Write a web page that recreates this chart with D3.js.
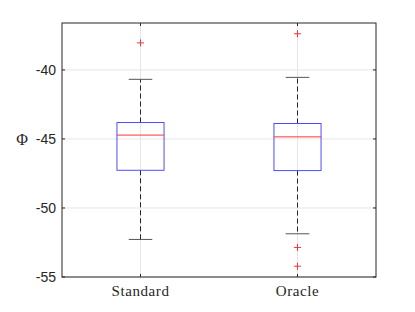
<!DOCTYPE html>
<html>
<head>
<meta charset="utf-8">
<script src="https://cdn.jsdelivr.net/npm/d3@7"></script>
<style>
  body { margin: 0; background: #fff; }
  svg { display: block; }
</style>
</head>
<body>
<svg id="chart" width="415" height="312"></svg>
<script>
// box statistics
var categories = ["Standard", "Oracle"];
var q1 = [-47.27, -47.29];
var medians = [-44.72, -44.85];
var q3 = [-43.81, -43.88];
var whiskerLow = [-52.28, -51.87];
var whiskerHigh = [-40.68, -40.54];
var outliers = [[-38.04], [-37.38, -52.86, -54.22]];
var yTicks = [-55, -50, -45, -40];

var margin = {left: 62, right: 39, top: 23, bottom: 35};
var width = 415, height = 312;

var svg = d3.select("#chart");

var x = d3.scaleLinear()
	.domain([0.5, 2.5])
	.range([margin.left, width - margin.right]);

var y = d3.scaleLinear()
	.domain([-55, -36.6])
	.range([height - margin.bottom, margin.top]);

var boxHalf = 0.15, capHalf = 0.075;

// grid
var grid = svg.append("g");
grid.selectAll(".gy").data(yTicks).enter().append("line")
	.attr("x1", x(0.5)).attr("x2", x(2.5))
	.attr("y1", function(d) { return y(d); })
	.attr("y2", function(d) { return y(d); })
	.attr("stroke", "#e6e6e6").attr("stroke-width", 1);
grid.selectAll(".gx").data(categories).enter().append("line")
	.attr("x1", function(d, i) { return x(i + 1); })
	.attr("x2", function(d, i) { return x(i + 1); })
	.attr("y1", y(-55)).attr("y2", y(-36.6))
	.attr("stroke", "#e6e6e6").attr("stroke-width", 1);

// boxes
var boxes = svg.append("g").selectAll("g").data(categories).enter().append("g");

boxes.append("line")
	.attr("x1", function(d, i) { return x(i + 1); })
	.attr("x2", function(d, i) { return x(i + 1); })
	.attr("y1", function(d, i) { return y(q3[i]); })
	.attr("y2", function(d, i) { return y(whiskerHigh[i]); })
	.attr("stroke", "#222").attr("stroke-dasharray", "5,3");
boxes.append("line")
	.attr("x1", function(d, i) { return x(i + 1); })
	.attr("x2", function(d, i) { return x(i + 1); })
	.attr("y1", function(d, i) { return y(q1[i]); })
	.attr("y2", function(d, i) { return y(whiskerLow[i]); })
	.attr("stroke", "#222").attr("stroke-dasharray", "5,3");

[whiskerHigh, whiskerLow].forEach(function(arr)
{
	boxes.append("line")
		.attr("x1", function(d, i) { return x(i + 1 - capHalf); })
		.attr("x2", function(d, i) { return x(i + 1 + capHalf); })
		.attr("y1", function(d, i) { return y(arr[i]); })
		.attr("y2", function(d, i) { return y(arr[i]); })
		.attr("stroke", "#555");
});

boxes.append("rect")
	.attr("x", function(d, i) { return x(i + 1 - boxHalf); })
	.attr("width", function(d, i) { return x(i + 1 + boxHalf) - x(i + 1 - boxHalf); })
	.attr("y", function(d, i) { return y(q3[i]); })
	.attr("height", function(d, i) { return y(q1[i]) - y(q3[i]); })
	.attr("fill", "none").attr("stroke", "#4d4dff");

boxes.append("line")
	.attr("x1", function(d, i) { return x(i + 1 - boxHalf); })
	.attr("x2", function(d, i) { return x(i + 1 + boxHalf); })
	.attr("y1", function(d, i) { return y(medians[i]); })
	.attr("y2", function(d, i) { return y(medians[i]); })
	.attr("stroke", "#ff3333");

// outliers as '+'
boxes.each(function(d, i)
{
	var g = d3.select(this);
	outliers[i].forEach(function(v)
	{
		var cx = x(i + 1), cy = y(v);
		g.append("path")
			.attr("d", "M" + (cx - 3.5) + "," + cy + "H" + (cx + 3.5) + "M" + cx + "," + (cy - 3.5) + "V" + (cy + 3.5))
			.attr("stroke", "#ff3333").attr("fill", "none");
	});
});

// frame
var frameColor = "#262626";
svg.append("rect")
	.attr("x", x(0.5)).attr("y", y(-36.6))
	.attr("width", x(2.5) - x(0.5)).attr("height", y(-55) - y(-36.6))
	.attr("fill", "none").attr("stroke", frameColor).attr("stroke-width", 1);

// ticks inside on left/right
var ticks = svg.append("g");
yTicks.forEach(function(t)
{
	ticks.append("line").attr("x1", x(0.5)).attr("x2", x(0.5) + 3)
		.attr("y1", y(t)).attr("y2", y(t)).attr("stroke", frameColor);
	ticks.append("line").attr("x1", x(2.5)).attr("x2", x(2.5) - 3)
		.attr("y1", y(t)).attr("y2", y(t)).attr("stroke", frameColor);
});
categories.forEach(function(c, i)
{
	ticks.append("line").attr("x1", x(i + 1)).attr("x2", x(i + 1))
		.attr("y1", y(-55)).attr("y2", y(-55) - 3).attr("stroke", frameColor);
	ticks.append("line").attr("x1", x(i + 1)).attr("x2", x(i + 1))
		.attr("y1", y(-36.6)).attr("y2", y(-36.6) + 3).attr("stroke", frameColor);
});

// tick labels
svg.append("g").selectAll("text").data(yTicks).enter().append("text")
	.attr("x", x(0.5) - 6)
	.attr("y", function(d) { return y(d); })
	.attr("dy", "0.35em")
	.attr("text-anchor", "end")
	.attr("font-family", "Liberation Sans, Arial, sans-serif")
	.attr("font-size", 14)
	.attr("fill", frameColor)
	.text(function(d) { return d; });

svg.append("g").selectAll("text").data(categories).enter().append("text")
	.attr("x", function(d, i) { return x(i + 1); })
	.attr("y", y(-55) + 19)
	.attr("text-anchor", "middle")
	.attr("font-family", "Liberation Serif, Times New Roman, serif")
	.attr("font-size", 15)
	.attr("letter-spacing", 0.6)
	.attr("fill", frameColor)
	.text(function(d) { return d; });

svg.append("text")
	.attr("x", 22)
	.attr("y", y(-45))
	.attr("dy", "0.35em")
	.attr("text-anchor", "middle")
	.attr("font-family", "Liberation Serif, Times New Roman, serif")
	.attr("font-size", 16)
	.attr("fill", frameColor)
	.text("Φ");
</script>
</body>
</html>
